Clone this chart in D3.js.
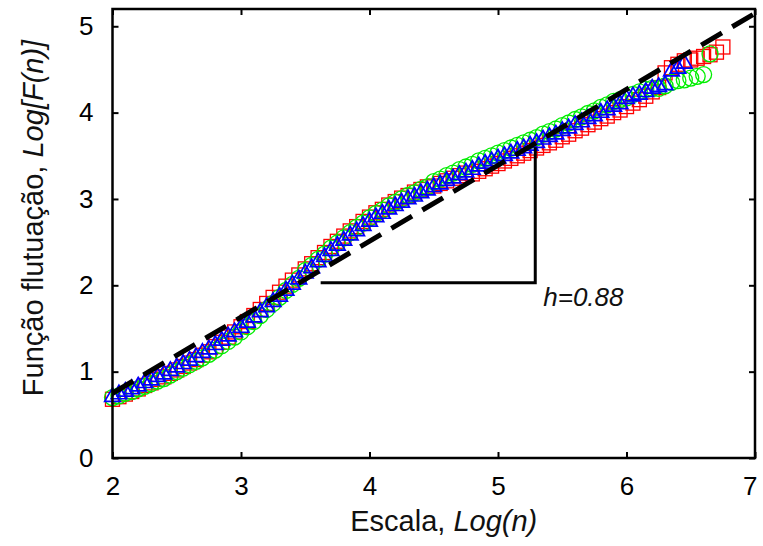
<!DOCTYPE html>
<html>
<head>
<meta charset="utf-8">
<script src="https://cdn.jsdelivr.net/npm/d3@7"></script>
<style>
    body { margin: 0; background: #fff; }
    svg text { font-family: "Liberation Sans", Arial, sans-serif; }
    .axis path { display: none; }
    .axis line { stroke: #000; stroke-width: 2; }
    .axis text { font-size: 26px; fill: #000; }
    .label { font-size: 29px; fill: #111; }
</style>
</head>
<body>
<div id="chart"></div>
<script>
    // Log(n) values (shared by the three series)
    var logN = [2.00, 2.05, 2.10, 2.15, 2.20, 2.25, 2.30, 2.35, 2.40, 2.45,
        2.50, 2.55, 2.60, 2.65, 2.70, 2.75, 2.80, 2.85, 2.90, 2.95,
        3.00, 3.05, 3.10, 3.15, 3.20, 3.25, 3.30, 3.35, 3.40, 3.45,
        3.50, 3.55, 3.60, 3.65, 3.70, 3.75, 3.80, 3.85, 3.90, 3.95,
        4.00, 4.05, 4.10, 4.15, 4.20, 4.25, 4.30, 4.35, 4.40, 4.45,
        4.50, 4.55, 4.60, 4.65, 4.70, 4.75, 4.80, 4.85, 4.90, 4.95,
        5.00, 5.05, 5.10, 5.15, 5.20, 5.25, 5.30, 5.35, 5.40, 5.45,
        5.50, 5.55, 5.60, 5.65, 5.70, 5.75, 5.80, 5.85, 5.90, 5.95,
        6.00, 6.05, 6.10, 6.15, 6.20, 6.25, 6.30, 6.35, 6.40, 6.45,
        6.50, 6.55, 6.60, 6.65, 6.70, 6.75];

    // Log[F(n)] - red squares
    var fRed = [0.68, 0.71, 0.74, 0.77, 0.80, 0.84, 0.87, 0.91, 0.94, 0.98,
        1.02, 1.06, 1.10, 1.14, 1.19, 1.23, 1.29, 1.34, 1.40, 1.46,
        1.52, 1.58, 1.65, 1.72, 1.79, 1.86, 1.92, 1.99, 2.06, 2.12,
        2.19, 2.25, 2.32, 2.38, 2.45, 2.51, 2.57, 2.63, 2.68, 2.74,
        2.79, 2.84, 2.88, 2.93, 2.97, 3.01, 3.04, 3.08, 3.11, 3.14,
        3.15, 3.18, 3.21, 3.24, 3.27, 3.30, 3.29, 3.32, 3.35, 3.38,
        3.41, 3.44, 3.47, 3.50, 3.53, 3.56, 3.59, 3.62, 3.65, 3.68,
        3.72, 3.75, 3.79, 3.82, 3.86, 3.89, 3.93, 3.96, 4.00, 4.03,
        4.07, 4.11, 4.15, 4.19, 4.24, 4.29, 4.46, 4.52, 4.56, 4.60,
        4.61, 4.63, 4.65, 4.67, 4.70, 4.76];

    // Log[F(n)] - green circles
    var fGreen = [0.70, 0.72, 0.75, 0.77, 0.80, 0.83, 0.86, 0.89, 0.92, 0.96,
        1.00, 1.04, 1.08, 1.12, 1.16, 1.20, 1.25, 1.30, 1.35, 1.40,
        1.46, 1.52, 1.58, 1.65, 1.72, 1.79, 1.86, 1.94, 2.01, 2.08,
        2.17, 2.23, 2.30, 2.36, 2.43, 2.49, 2.55, 2.61, 2.67, 2.72,
        2.78, 2.83, 2.87, 2.92, 2.96, 3.00, 3.04, 3.07, 3.11, 3.14,
        3.20, 3.23, 3.27, 3.30, 3.34, 3.37, 3.40, 3.44, 3.47, 3.50,
        3.53, 3.56, 3.59, 3.62, 3.65, 3.68, 3.71, 3.75, 3.78, 3.81,
        3.85, 3.88, 3.92, 3.95, 3.99, 4.02, 4.06, 4.09, 4.13, 4.15,
        4.17, 4.21, 4.24, 4.27, 4.28, 4.28, 4.31, 4.35, 4.37, 4.38,
        4.40, 4.42, 4.44, 4.68];

    // Log[F(n)] - blue triangles
    var fBlue = [0.72, 0.75, 0.78, 0.81, 0.84, 0.88, 0.91, 0.95, 0.98, 1.02,
        1.06, 1.10, 1.14, 1.18, 1.23, 1.27, 1.32, 1.37, 1.42, 1.47,
        1.52, 1.58, 1.64, 1.70, 1.76, 1.82, 1.88, 1.95, 2.02, 2.08,
        2.15, 2.21, 2.28, 2.34, 2.41, 2.47, 2.53, 2.59, 2.64, 2.70,
        2.75, 2.80, 2.84, 2.89, 2.93, 2.97, 3.01, 3.04, 3.08, 3.11,
        3.15, 3.18, 3.22, 3.25, 3.29, 3.32, 3.35, 3.39, 3.42, 3.45,
        3.48, 3.51, 3.54, 3.57, 3.60, 3.63, 3.66, 3.70, 3.73, 3.76,
        3.80, 3.83, 3.87, 3.90, 3.94, 3.97, 4.01, 4.04, 4.08, 4.11,
        4.17, 4.20, 4.22, 4.25, 4.29, 4.31, 4.33, 4.49, 4.52, 4.58];

    // fitted line (slope h) and the slope triangle
    var fitX = [2.0, 7.0];
    var fitY = [0.75, 5.15];
    var slopeX = [3.62, 5.29];
    var slopeY = [2.03, 3.6];
    var hLabel = "h=0.88";

    var xTicks = [2, 3, 4, 5, 6, 7];
    var yTicks = [0, 1, 2, 3, 4, 5];

    var width = 763, height = 546;
    var margin = { top: 9, left: 112.5, right: 8, bottom: 88 };

    var svg = d3.select("#chart").append("svg")
        .attr("width", width)
        .attr("height", height);

    var x = d3.scaleLinear().domain([2, 7]).range([margin.left, width - margin.right]);
    var y = d3.scaleLinear().domain([0, 5.2]).range([height - margin.bottom, margin.top]);
    var fmt = d3.format("d");

    // axes with ticks on the inside, mirrored on top and right
    var xb = svg.append("g").attr("class", "axis")
        .attr("transform", "translate(0," + y(0) + ")")
        .call(d3.axisBottom(x).tickValues(xTicks).tickFormat(fmt).tickSizeInner(-6).tickSizeOuter(0).tickPadding(19));
    // keep the last label inside the picture
    xb.selectAll(".tick text").filter(function (d) { return d == 7; }).attr("dx", "-0.2em");
    svg.append("g").attr("class", "axis")
        .attr("transform", "translate(" + x(2) + ",0)")
        .call(d3.axisLeft(y).tickValues(yTicks).tickFormat(fmt).tickSizeInner(-6).tickSizeOuter(0).tickPadding(19));
    svg.append("g").attr("class", "axis")
        .attr("transform", "translate(0," + y(5.2) + ")")
        .call(d3.axisTop(x).tickValues(xTicks).tickSizeInner(-6).tickSizeOuter(0).tickFormat(""));
    svg.append("g").attr("class", "axis")
        .attr("transform", "translate(" + x(7) + ",0)")
        .call(d3.axisRight(y).tickValues(yTicks).tickSizeInner(-6).tickSizeOuter(0).tickFormat(""));

    var plot = svg.append("g");

    // red squares
    plot.append("g")
        .selectAll("rect")
        .data(fRed)
        .enter().append("rect")
        .attr("x", function (d, i) { return x(logN[i]) - 7; })
        .attr("y", function (d) { return y(d) - 7; })
        .attr("width", 14)
        .attr("height", 14)
        .style("fill", "none")
        .style("stroke", "#ff0000")
        .style("stroke-width", 1.3);

    // green circles
    plot.append("g")
        .selectAll("circle")
        .data(fGreen)
        .enter().append("circle")
        .attr("cx", function (d, i) { return x(logN[i]); })
        .attr("cy", function (d) { return y(d); })
        .attr("r", 8)
        .style("fill", "none")
        .style("stroke", "#00ee00")
        .style("stroke-width", 1.3);

    // blue triangles
    var tri = d3.symbol().type(d3.symbolTriangle).size(105);
    plot.append("g")
        .selectAll("path")
        .data(fBlue)
        .enter().append("path")
        .attr("d", tri)
        .attr("transform", function (d, i) { return "translate(" + x(logN[i]) + "," + (y(d) + 1) + ")"; })
        .style("fill", "none")
        .style("stroke", "#0000ff")
        .style("stroke-width", 1.7);

    // dashed fit
    svg.append("line")
        .attr("x1", x(fitX[0])).attr("y1", y(fitY[0]))
        .attr("x2", x(fitX[1])).attr("y2", y(fitY[1]))
        .style("stroke", "#000")
        .style("stroke-width", 5)
        .style("stroke-dasharray", "24,12");

    // slope triangle
    svg.append("path")
        .attr("d", "M" + x(slopeX[0]) + "," + y(slopeY[0]) +
            "L" + x(slopeX[1]) + "," + y(slopeY[0]) +
            "L" + x(slopeX[1]) + "," + y(slopeY[1]))
        .style("fill", "none")
        .style("stroke", "#000")
        .style("stroke-width", 3);

    svg.append("text")
        .attr("class", "label")
        .attr("x", x(slopeX[1]) + 8)
        .attr("y", y(slopeY[0]) + 23)
        .style("font-style", "italic")
        .style("font-size", "26px")
        .text(hLabel);

    // frame
    svg.append("rect")
        .attr("x", x(2)).attr("y", y(5.2))
        .attr("width", x(7) - x(2)).attr("height", y(0) - y(5.2))
        .style("fill", "none")
        .style("stroke", "#000")
        .style("stroke-width", 2.5);

    // axis titles
    var xt = svg.append("text").attr("class", "label")
        .attr("x", (x(2) + x(7)) / 2 + 10)
        .attr("y", 531)
        .attr("text-anchor", "middle");
    xt.append("tspan").text("Escala, ");
    xt.append("tspan").style("font-style", "italic").text("Log(n)");

    var yt = svg.append("text").attr("class", "label")
        .attr("transform", "translate(43,218) rotate(-90)")
        .attr("text-anchor", "middle");
    yt.append("tspan").text("Função flutuação, ");
    yt.append("tspan").style("font-style", "italic").text("Log[F(n)]");
</script>
</body>
</html>
